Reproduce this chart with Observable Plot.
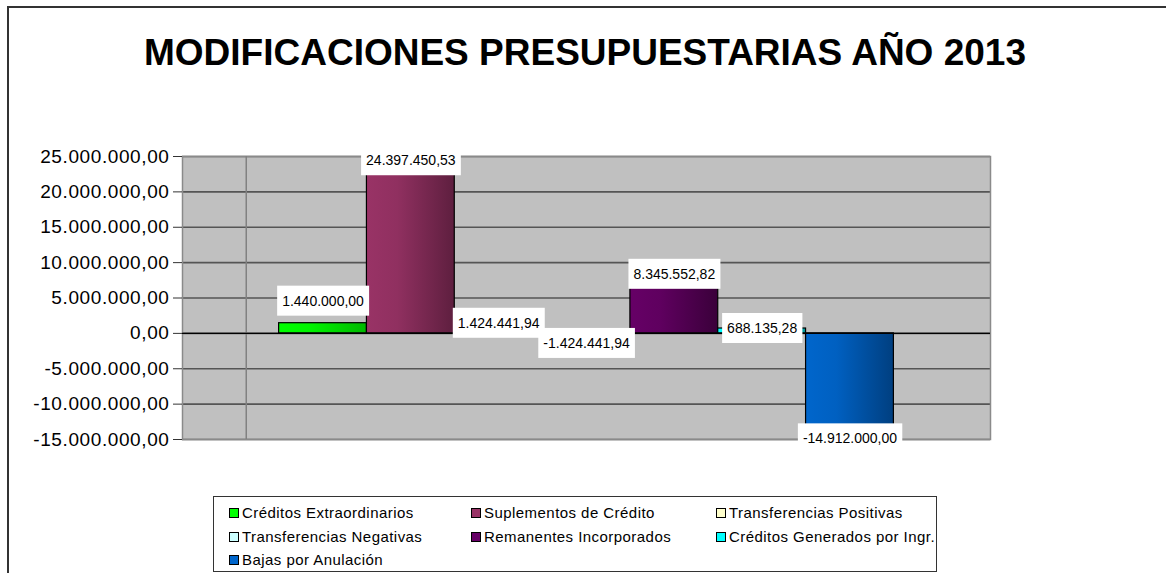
<!DOCTYPE html>
<html>
<head>
<meta charset="utf-8">
<script src="https://cdn.jsdelivr.net/npm/d3@7"></script>
<script src="https://cdn.jsdelivr.net/npm/@observablehq/plot@0.6"></script>
<style>
  html, body { margin: 0; padding: 0; background: #fff; width: 1166px; height: 573px; overflow: hidden; }
  body { position: relative; font-family: Arial, "Liberation Sans", sans-serif; }
  #frame { position: absolute; left: 7px; top: 6px; width: 1180px; height: 600px; border-left: 2px solid #333; border-top: 2px solid #333; box-sizing: border-box; }
  #title { position: absolute; left: 0; top: 34px; width: 1170px; text-align: center; font: bold 37px Arial, "Liberation Sans", sans-serif; line-height: 37px; color: #000; white-space: nowrap; }
  #chart { position: absolute; left: 0; top: 138px; }
  #legend { position: absolute; left: 213px; top: 496px; width: 724px; height: 76px; border: 1px solid #333; box-sizing: border-box; background: #fff; }
  .item { position: absolute; display: flex; align-items: center; font-size: 15px; letter-spacing: 0.45px; color: #000; white-space: nowrap; line-height: 18px; }
  .sw { display: inline-block; width: 8px; height: 8px; border: 1px solid #000; margin-right: 3px; }
</style>
</head>
<body>
<div id="frame"></div>
<div id="title">MODIFICACIONES PRESUPUESTARIAS AÑO 2013</div>
<div id="chart"></div>
<div id="legend"></div>
<script>
// ---- data ----
const categories = [
  "Créditos Extraordinarios",
  "Suplementos de Crédito",
  "Transferencias Positivas",
  "Transferencias Negativas",
  "Remanentes Incorporados",
  "Créditos Generados por Ingr.",
  "Bajas por Anulación"
];
const values = [1440000, 24397450.53, 1424441.94, -1424441.94, 8345552.82, 688135.28, -14912000];
const legendColors = ["#00FF00", "#993366", "#FFFFCC", "#CCFFFF", "#660066", "#00FFFF", "#0066CC"];
const shadeColors  = ["#00B800", "#5E1F3F", "#A3A382", "#7E9E9E", "#3A003A", "#009A9A", "#003F80"];
const yTicks = [25000000, 20000000, 15000000, 10000000, 5000000, 0, -5000000, -10000000, -15000000];

const locale = d3.formatLocale({decimal: ",", thousands: ".", grouping: [3], currency: ["", ""], minus: "-"});
const fmt = locale.format(",.2f");

const data = categories.map((c, i) => ({cat: c, value: values[i], grad: `url(#grad${i})`}));

const plot = Plot.plot({
  width: 1166,
  height: 322,
  marginTop: 18,
  marginBottom: 21,
  marginLeft: 182,
  marginRight: 176,
  x: {domain: categories, paddingInner: 0, paddingOuter: 1.1, round: false, axis: null},
  y: {domain: [-15000000, 25000000]},
  color: {type: "identity"},
  style: {fontFamily: "Arial, 'Liberation Sans', sans-serif", background: "transparent", overflow: "visible"},
  marks: [
    Plot.frame({fill: "#C0C0C0"}),
    Plot.ruleY(yTicks, {stroke: "#555", strokeWidth: 1.6}),
    Plot.frame({stroke: "#8a8a8a", strokeWidth: 1.5}),
    Plot.barY(data, {x: "cat", y: "value", fill: "grad", stroke: "#000", strokeWidth: 1.2}),
    Plot.ruleY([0], {stroke: "#000", strokeWidth: 1.2}),
    Plot.axisY({ticks: yTicks, tickFormat: fmt, tickSize: 9, tickPadding: 4, fontSize: 19, label: null, stroke: "#333", fill: "#000"}),
    Plot.text(data, {filter: (d, i) => i > 0, x: "cat", y: "value", text: d => fmt(d.value), fontSize: 14, fill: "#000"}),
    Plot.text(data, {filter: (d, i) => i === 0, x: "cat", y: "value", text: d => fmt(d.value), fontSize: 14, fill: "#000", dy: -22})
  ]
});

document.getElementById("chart").appendChild(plot);

// gradients for the bar fills
const svg = d3.select(plot);
const defs = svg.insert("defs", ":first-child");
legendColors.forEach((c, i) => {
  const g = defs.append("linearGradient").attr("id", `grad${i}`).attr("x1", "0%").attr("x2", "100%").attr("y1", "0%").attr("y2", "0%");
  g.append("stop").attr("offset", "0%").attr("stop-color", c);
  g.append("stop").attr("offset", "35%").attr("stop-color", d3.interpolateRgb(c, shadeColors[i])(0.15));
  g.append("stop").attr("offset", "100%").attr("stop-color", shadeColors[i]);
});

// tick label letter spacing (Excel-like)
plot.querySelectorAll('g[aria-label="y-axis tick label"]').forEach(g => g.setAttribute("letter-spacing", "0.6"));

// back-wall vertical line (decorative, as in the original 3D-style chart)
const barG = plot.querySelector('g[aria-label="bar"]');
if (barG) {
  const firstRect = barG.querySelector("rect");
  const bx = +firstRect.getAttribute("x");
  const left = 182;
  const wx = left + (bx - left) * 0.665;
  const line = document.createElementNS("http://www.w3.org/2000/svg", "line");
  line.setAttribute("x1", wx); line.setAttribute("x2", wx);
  line.setAttribute("y1", 18); line.setAttribute("y2", 322 - 21);
  line.setAttribute("stroke", "#808080"); line.setAttribute("stroke-width", "1.5");
  barG.parentNode.insertBefore(line, barG);
}

// white boxes behind data labels
plot.querySelectorAll('g[aria-label="text"] text').forEach(t => {
  const bb = t.getBBox();
  const r = document.createElementNS("http://www.w3.org/2000/svg", "rect");
  const cy = bb.y + bb.height / 2;
  r.setAttribute("x", bb.x - 5);
  r.setAttribute("y", cy - 15);
  r.setAttribute("width", bb.width + 10);
  r.setAttribute("height", 30);
  r.setAttribute("fill", "#fff");
  r.setAttribute("stroke", "none");
  if (t.getAttribute("transform")) r.setAttribute("transform", t.getAttribute("transform"));
  t.parentNode.insertBefore(r, t);
});

// legend
const legend = document.getElementById("legend");
const colX = [15, 257, 502];
const rowY = [7, 31, 54];
categories.forEach((c, i) => {
  const el = document.createElement("div");
  el.className = "item";
  el.style.left = colX[i % 3] + "px";
  el.style.top = rowY[Math.floor(i / 3)] + "px";
  el.innerHTML = `<span class="sw" style="background:${legendColors[i]}"></span><span>${c}</span>`;
  legend.appendChild(el);
});
</script>
</body>
</html>
